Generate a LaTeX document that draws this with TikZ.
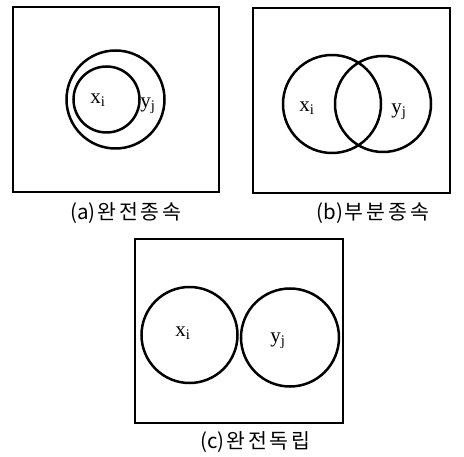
\documentclass[tikz,border=0pt]{standalone}
\usepackage{fontspec}
\setmainfont{Liberation Serif}
\newfontfamily\krfont{Noto Sans CJK KR}
\newfontfamily\krwide[LetterSpace=14]{Noto Sans CJK KR}
\usepackage{tikz}
\usetikzlibrary{positioning}
\tikzset{
  frame/.style   = {draw, line width=1.8pt},
  set/.style     = {draw, circle, line width=2.5pt, inner sep=0pt},
  var/.style     = {font=\fontsize{21}{21}\selectfont, inner sep=0pt},
  caption/.style = {font=\krfont\fontsize{20.5}{20.5}\selectfont, inner sep=0pt}
}
\newcommand{\xsub}{x\textsubscript{i}}
\newcommand{\ysub}{y\textsubscript{j}}
\newcommand{\capt}[2]{(#1)\hspace{1.5pt}{\krwide #2}}

\begin{document}
\begin{tikzpicture}[x=1pt, y=-1pt]
    \useasboundingbox (0,0) rectangle (464,457);
    % (a)
    \draw[frame] (13,7) rectangle (219,192);
    \node[set, minimum size=98pt](ya) at (115.5,99.5) {};
    \node[set, minimum size=66pt](xa) at (106.5,99.5) {};
    \node[var](lxa) at (98,100) {\xsub};
    \node[var](lya) at (148,106) {\ysub};
    \node[caption](ca) at (126,213) {\capt{a}{완전종속}};
    % (b)
    \draw[frame] (253,8) rectangle (450,193);
    \node[set, minimum size=98pt](xb) at (332,104) {};
    \node[set, minimum size=96pt](yb) at (383,104) {};
    \node[var](lxb) at (307,108) {\xsub};
    \node[var](lyb) at (399,112) {\ysub};
    \node[caption](cb) at (373,213) {\capt{b}{부분종속}};
    % (c)
    \draw[frame] (135,239) rectangle (343,423);
    \node[set, minimum size=96pt](xc) at (189.5,335) {};
    \node[set, minimum size=98pt](yc) at (290,337.5) {};
    \node[var](lxc) at (183,333) {\xsub};
    \node[var](lyc) at (278,341) {\ysub};
    \node[caption](cc) at (255.5,442) {\capt{c}{완전독립}};
\end{tikzpicture}
\end{document}
